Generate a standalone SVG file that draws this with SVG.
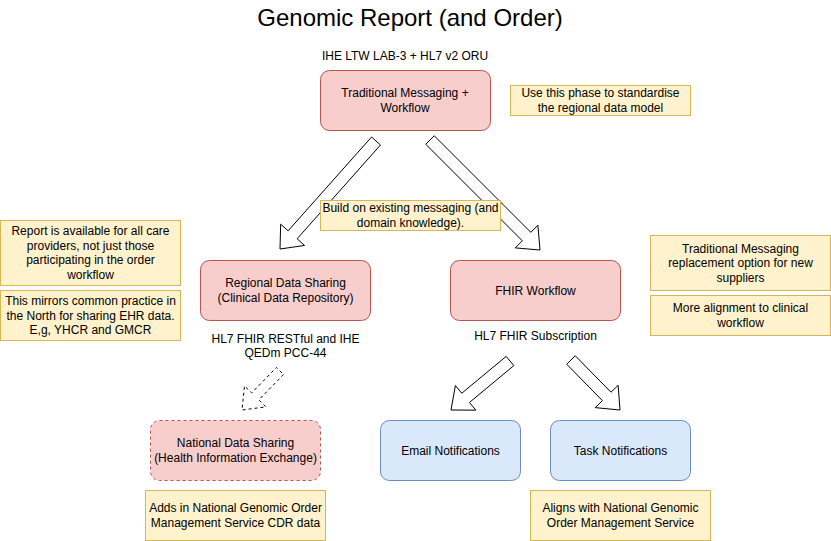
<svg xmlns="http://www.w3.org/2000/svg" width="831" height="541" viewBox="0 0 831 541">
<style>
text{font-family:"Liberation Sans",Arial,Helvetica,sans-serif;font-size:12px;fill:#000;text-anchor:middle}
.title{font-size:24px}
.red{fill:#f8cecc;stroke:#b85450;stroke-width:1}
.blue{fill:#dae8fc;stroke:#6c8ebf;stroke-width:1}
.note{fill:#fff2cc;stroke:#d6b656;stroke-width:1}
.dash{stroke-dasharray:3 3}
.arrow{fill:#fff;stroke:#000;stroke-width:1;stroke-linejoin:miter}
</style>
<rect x="0" y="0" width="831" height="541" fill="#fff"/>
<text class="title" x="410" y="26">Genomic Report (and Order)</text>

<g id="connectors">
<polygon class="arrow" points="380.48,144.99 297.10,238.79 304.58,245.43 280,249 280.66,224.17 288.14,230.81 371.52,137.01"/>
<polygon class="arrow" points="434.24,135.76 530.81,232.33 537.88,225.26 540,250 515.26,247.88 522.33,240.81 425.76,144.24"/>
<polygon class="arrow dash" points="283.58,374.49 258.84,399.88 266.0,406.86 242,410 244.52,385.92 251.68,392.9 276.42,367.51"/>
<polygon class="arrow" points="513.83,365.62 469.45,402.48 475.84,410.17 451,410 455.40,385.55 461.79,393.24 506.17,356.38"/>
<polygon class="arrow" points="575.29,355.8 610.99,392.23 618.13,385.23 620,410 595.27,407.63 602.41,400.63 566.71,364.2"/>
</g>

<g id="traditional">
<text x="405" y="60">IHE LTW LAB-3 + HL7 v2 ORU</text>
<rect class="red" x="320.5" y="70.5" width="170" height="60" rx="9"/>
<text x="405" y="97.3">Traditional Messaging +</text>
<text x="405" y="111.7">Workflow</text>
</g>

<g id="note-standardise">
<rect class="note" x="510.5" y="85.5" width="180" height="30"/>
<text x="600.5" y="97.3">Use this phase to standardise</text>
<text x="600.5" y="111.7">the regional data model</text>
</g>

<g id="note-build">
<rect class="note" x="320.5" y="200.5" width="180" height="30"/>
<text x="410.5" y="212.3">Build on existing messaging (and</text>
<text x="410.5" y="226.7">domain knowledge).</text>
</g>

<g id="note-report">
<rect class="note" x="0.5" y="220.5" width="180" height="65"/>
<text x="90.5" y="235.4">Report is available for all care</text>
<text x="90.5" y="249.8">providers, not just those</text>
<text x="90.5" y="264.2">participating in the order</text>
<text x="90.5" y="278.6">workflow</text>
</g>

<g id="note-mirrors">
<rect class="note" x="0.5" y="290.5" width="180" height="50"/>
<text x="90.5" y="305.1">This mirrors common practice in</text>
<text x="90.5" y="319.5">the North for sharing EHR data.</text>
<text x="90.5" y="333.9">E,g, YHCR and GMCR</text>
</g>

<g id="regional">
<rect class="red" x="200.5" y="260.5" width="170" height="60" rx="9"/>
<text x="285.5" y="287.3">Regional Data Sharing</text>
<text x="285.5" y="301.7">(Clinical Data Repository)</text>
<text x="285.5" y="342.5">HL7 FHIR RESTful and IHE</text>
<text x="285.5" y="357">QEDm PCC-44</text>
</g>

<g id="fhir">
<rect class="red" x="450.5" y="260.5" width="170" height="60" rx="9"/>
<text x="535.5" y="294.5">FHIR Workflow</text>
<text x="535.5" y="340">HL7 FHIR Subscription</text>
</g>

<g id="note-replacement">
<rect class="note" x="650.5" y="235.5" width="180" height="55"/>
<text x="740.5" y="253">Traditional Messaging</text>
<text x="740.5" y="267.4">replacement option for new</text>
<text x="740.5" y="281.8">suppliers</text>
</g>

<g id="note-alignment">
<rect class="note" x="650.5" y="295.5" width="180" height="40"/>
<text x="740.5" y="312.3">More alignment to clinical</text>
<text x="740.5" y="326.7">workflow</text>
</g>

<g id="national">
<rect class="red dash" x="150.5" y="420.5" width="170" height="60" rx="9"/>
<text x="235.5" y="447.3">National Data Sharing</text>
<text x="235.5" y="461.7">(Health Information Exchange)</text>
</g>

<g id="note-national">
<rect class="note" x="145.5" y="490.5" width="180" height="50"/>
<text x="235.5" y="512.3">Adds in National Genomic Order</text>
<text x="235.5" y="526.7">Management Service CDR data</text>
</g>

<g id="email">
<rect class="blue" x="380.5" y="420.5" width="140" height="60" rx="9"/>
<text x="450.5" y="454.5">Email Notifications</text>
</g>

<g id="task">
<rect class="blue" x="550.5" y="420.5" width="140" height="60" rx="9"/>
<text x="620.5" y="454.5">Task Notifications</text>
</g>

<g id="note-task">
<rect class="note" x="530.5" y="490.5" width="180" height="50"/>
<text x="620.5" y="512.3">Aligns with National Genomic</text>
<text x="620.5" y="526.7">Order Management Service</text>
</g>
</svg>
